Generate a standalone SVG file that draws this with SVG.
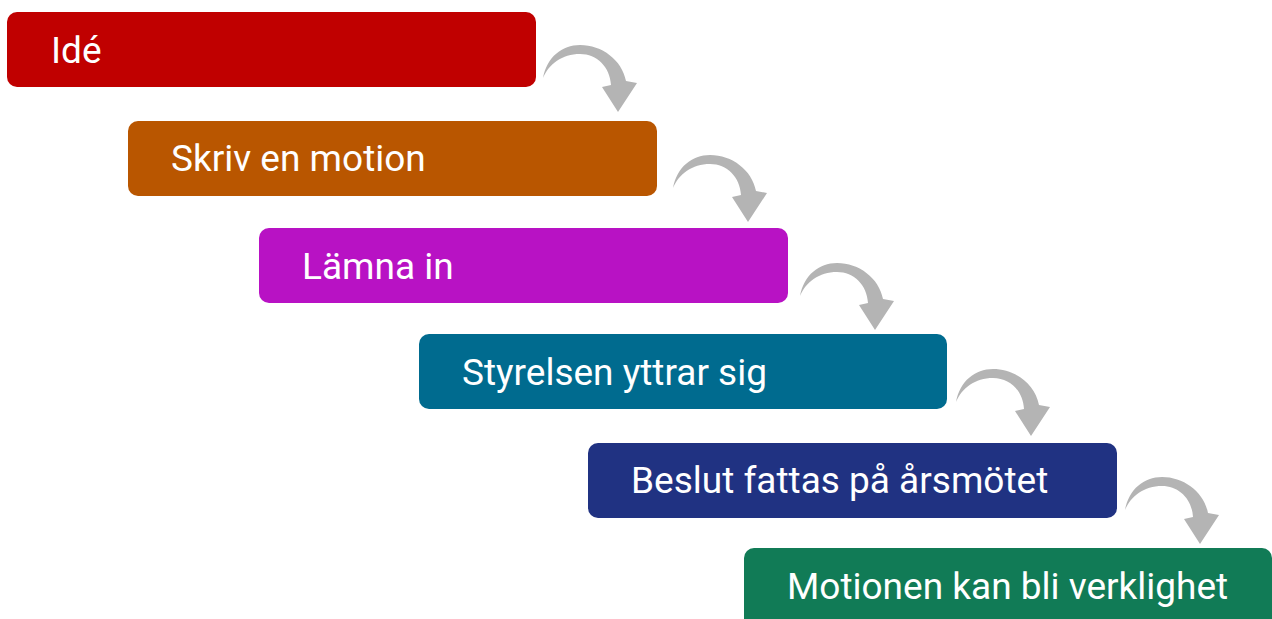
<svg xmlns="http://www.w3.org/2000/svg" xmlns:xlink="http://www.w3.org/1999/xlink" width="1272" height="619" viewBox="0 0 1272 619">
<style>
.box{stroke:none}
.lbl{font-family:Roboto,"Liberation Sans",sans-serif;font-size:37px;fill:#ffffff}
.arr{fill:#b4b4b4}
</style>
<defs>
<path id="curl" d="M -74,-34 C -70,-55 -55,-67 -37,-67 C -15,-67 5,-52 9,-31 L 20,-29 L 1,0 L -15,-25 L -6,-27 C -7,-45 -20,-58 -37,-58 C -55,-58 -68,-48 -74,-34 Z"/>
</defs>
<rect width="1272" height="619" fill="#ffffff"/>
<g id="connectors">
<use xlink:href="#curl" href="#curl" class="arr" transform="translate(617,112)"/>
<use xlink:href="#curl" href="#curl" class="arr" transform="translate(747,222)"/>
<use xlink:href="#curl" href="#curl" class="arr" transform="translate(874,330)"/>
<use xlink:href="#curl" href="#curl" class="arr" transform="translate(1030,436)"/>
<use xlink:href="#curl" href="#curl" class="arr" transform="translate(1199,544)"/>
</g>
<g id="node-ide">
<rect class="box" x="7" y="12" width="529" height="75" rx="10" fill="#c00000"/>
<text class="lbl" x="51" y="63">Idé</text>
</g>
<g id="node-skriv">
<rect class="box" x="128" y="121" width="529" height="75" rx="10" fill="#b95600"/>
<text class="lbl" x="171" y="171">Skriv en motion</text>
</g>
<g id="node-lamna">
<rect class="box" x="259" y="228" width="529" height="75" rx="10" fill="#b812c4"/>
<text class="lbl" x="302" y="279">Lämna in</text>
</g>
<g id="node-styrelsen">
<rect class="box" x="419" y="334" width="528" height="75" rx="10" fill="#006b8f"/>
<text class="lbl" x="462" y="385">Styrelsen yttrar sig</text>
</g>
<g id="node-beslut">
<rect class="box" x="588" y="443" width="529" height="75" rx="10" fill="#203282"/>
<text class="lbl" x="631" y="493">Beslut fattas på årsmötet</text>
</g>
<g id="node-motionen">
<rect class="box" x="744" y="548" width="528" height="80" rx="10" fill="#117b56"/>
<text class="lbl" x="787" y="599">Motionen kan bli verklighet</text>
</g>
</svg>
